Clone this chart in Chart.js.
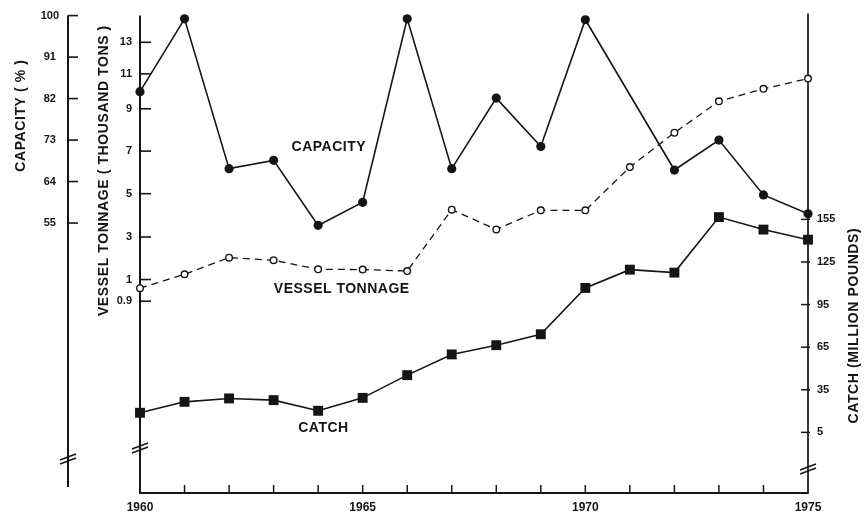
<!DOCTYPE html>
<html>
<head>
<meta charset="utf-8">
<title>Capacity, vessel tonnage and catch, 1960–1975</title>
<script src="https://cdn.jsdelivr.net/npm/chart.js@4.4.1/dist/chart.umd.min.js"></script>
<style>
  html, body { margin: 0; padding: 0; background: #fff; }
  #wrap { width: 868px; height: 514px; }
</style>
</head>
<body>
<div id="wrap"><canvas id="chart" width="868" height="514"></canvas></div>
<script>
// ---- data -------------------------------------------------------------
const years = [1960, 1961, 1962, 1963, 1964, 1965, 1966, 1967,
               1968, 1969, 1970, 1971, 1972, 1973, 1974, 1975];

// capacity utilisation, percent (no observation for 1971)
const capacityPct = [83.5, 99.3, 66.8, 68.6, 54.5, 59.5, 99.3, 66.8,
                     82.1, 71.6, 99.1, null, 66.5, 73.0, 61.1, 57.0];

// vessel tonnage, thousand tons
const tonnageKt = [0.96, 1.25, 2.03, 1.91, 1.48, 1.47, 1.40, 4.26,
                   3.35, 4.23, 4.23, 6.25, 7.87, 9.43, 10.14, 10.73];

// catch, million pounds
const catchMlb = [18.8, 26.5, 28.9, 27.7, 20.2, 29.3, 45.3, 59.9,
                  66.4, 74.1, 106.7, 119.6, 117.5, 156.6, 147.8, 140.7];

const capacityTicks = [55, 64, 73, 82, 91, 100];
const tonnageTicks = [0.9, 1, 3, 5, 7, 9, 11, 13];
const catchTicks = [5, 35, 65, 95, 125, 155];
const yearLabels = [1960, 1965, 1970, 1975];

// ---- irregular tonnage axis -----------------------------------------------
// The tonnage axis is not evenly divided: each tick value sits at its own
// fraction of the axis height (0 = bottom, 1 = top); values in between are
// interpolated linearly, values beyond the ends extrapolate the end segment.
const calibrations = {
  ton: [[0.9, 0.4017], [1, 0.4471], [3, 0.5362], [5, 0.6270],
        [7, 0.7161], [9, 0.8048], [11, 0.8780], [13, 0.9441]]
};

function toFraction(knots, v) {
  let i = 1;
  while (i < knots.length - 1 && v > knots[i][0]) i++;
  const [v0, f0] = knots[i - 1], [v1, f1] = knots[i];
  return f0 + (v - v0) / (v1 - v0) * (f1 - f0);
}
function fromFraction(knots, f) {
  let i = 1;
  while (i < knots.length - 1 && f > knots[i][1]) i++;
  const [v0, f0] = knots[i - 1], [v1, f1] = knots[i];
  return v0 + (f - f0) / (f1 - f0) * (v1 - v0);
}

class CalibratedScale extends Chart.LinearScale {
  static id = 'calibrated';
  buildTicks() {
    return calibrations[this.id].map(k => ({ value: k[0] }));
  }
  getPixelForValue(value) {
    if (value === null || value === undefined) return NaN;
    const f = toFraction(calibrations[this.id], value);
    return this.bottom - f * (this.bottom - this.top);
  }
  getValueForPixel(pixel) {
    const f = (this.bottom - pixel) / (this.bottom - this.top);
    return fromFraction(calibrations[this.id], f);
  }
}
Chart.register(CalibratedScale);

// ---- styling ----------------------------------------------------------------
const INK = '#151515';
const FONT = '"Liberation Sans", Arial, sans-serif';
Chart.defaults.font.family = FONT;
Chart.defaults.color = INK;

const points = values => years.map((yr, i) => ({ x: yr, y: values[i] }));
const fixedTicks = list => scale => { scale.ticks = list.map(v => ({ value: v })); };
const noGrid = { display: false, drawTicks: false };
const noBorder = { display: false };

function stroke(ctx, x1, y1, x2, y2, w) {
  ctx.lineWidth = w;
  ctx.beginPath();
  ctx.moveTo(x1, y1);
  ctx.lineTo(x2, y2);
  ctx.stroke();
}
// "//" break mark across a vertical axis
function breakMark(ctx, x, y) {
  stroke(ctx, x - 8, y + 2, x + 8, y - 4, 1.5);
  stroke(ctx, x - 8, y + 6, x + 8, y, 1.5);
}
function setText(ctx, size, spacing) {
  ctx.font = `bold ${size}px ${FONT}`;
  ctx.fillStyle = INK;
  if ('letterSpacing' in ctx) ctx.letterSpacing = spacing + 'px';
}
function verticalText(ctx, str, x, y) {
  ctx.save();
  ctx.translate(x, y);
  ctx.rotate(-Math.PI / 2);
  ctx.textAlign = 'center';
  ctx.textBaseline = 'middle';
  ctx.fillText(str, 0, 0);
  ctx.restore();
}

// axis lines, inward tick marks, break marks, axis titles and series names
const framePlugin = {
  id: 'frame',
  beforeDatasetsDraw(chart) {
    const { ctx, chartArea: a, scales } = chart;
    const cap = scales.cap, ton = scales.ton, cat = scales.cat, x = scales.x;
    ctx.save();
    ctx.strokeStyle = INK;
    ctx.lineCap = 'butt';

    // capacity axis, standing apart on the far left
    const cx = cap.right;
    stroke(ctx, cx, a.top, cx, a.bottom - 6, 2);
    capacityTicks.forEach(v => {
      const y = cap.getPixelForValue(v);
      stroke(ctx, cx, y, cx + 10, y, 1.6);
    });
    breakMark(ctx, cx, a.bottom - 35);

    // tonnage axis
    stroke(ctx, a.left, a.top, a.left, a.bottom + 1, 2);
    tonnageTicks.forEach(v => {
      const y = ton.getPixelForValue(v);
      stroke(ctx, a.left, y, a.left + 11, y, 1.6);
    });
    breakMark(ctx, a.left, a.bottom - 46);

    // catch axis on the right
    stroke(ctx, a.right, a.top - 2, a.right, a.bottom + 1, 1.7);
    catchTicks.forEach(v => {
      const y = cat.getPixelForValue(v);
      stroke(ctx, a.right - 7, y, a.right + 2, y, 1.5);
    });
    breakMark(ctx, a.right, a.bottom - 25);

    // year axis with upward ticks
    stroke(ctx, a.left, a.bottom, a.right, a.bottom, 1.8);
    years.slice(1, -1).forEach(yr => {
      const px = x.getPixelForValue(yr);
      stroke(ctx, px, a.bottom, px, a.bottom - 8, 1.5);
    });

    // axis titles
    setText(ctx, 14, 0.6);
    verticalText(ctx, 'CAPACITY ( % )', cap.left + 21, a.top + 100);
    verticalText(ctx, 'VESSEL TONNAGE ( THOUSAND TONS )', ton.left + 36, a.top + 155);
    verticalText(ctx, 'CATCH (MILLION POUNDS)', cat.left + 46, a.top + 310);
    ctx.restore();
  },
  afterDatasetsDraw(chart) {
    const { ctx, scales } = chart;
    const x = scales.x;
    ctx.save();
    setText(ctx, 14, 0.5);
    ctx.textAlign = 'center';
    ctx.textBaseline = 'middle';
    ctx.fillText('CAPACITY', x.getPixelForValue(1964.24), scales.cap.getPixelForValue(71.4));
    ctx.fillText('VESSEL TONNAGE', x.getPixelForValue(1964.53), scales.ton.getPixelForValue(0.954));
    ctx.fillText('CATCH', x.getPixelForValue(1964.12), scales.cat.getPixelForValue(8.2));
    ctx.restore();
  }
};

new Chart(document.getElementById('chart'), {
  type: 'line',
  data: {
    datasets: [
      {
        label: 'Capacity (%)',
        data: points(capacityPct),
        yAxisID: 'cap',
        spanGaps: true,
        borderColor: INK,
        borderWidth: 1.6,
        pointStyle: 'circle',
        pointRadius: 4.6,
        pointBackgroundColor: INK,
        pointBorderWidth: 0,
        clip: false
      },
      {
        label: 'Vessel tonnage (thousand tons)',
        data: points(tonnageKt),
        yAxisID: 'ton',
        borderColor: INK,
        borderWidth: 1.3,
        borderDash: [7, 5],
        pointStyle: 'circle',
        pointRadius: 3.3,
        pointBackgroundColor: '#fff',
        pointBorderColor: INK,
        pointBorderWidth: 1.4,
        clip: false
      },
      {
        label: 'Catch (million pounds)',
        data: points(catchMlb),
        yAxisID: 'cat',
        borderColor: INK,
        borderWidth: 1.6,
        pointStyle: 'rect',
        pointRadius: 7,
        pointBackgroundColor: INK,
        pointBorderWidth: 0,
        clip: false
      }
    ]
  },
  options: {
    responsive: false,
    animation: false,
    devicePixelRatio: 1,
    layout: { padding: { top: 15, left: 0, right: 0, bottom: 0 } },
    plugins: { legend: { display: false }, tooltip: { enabled: false } },
    scales: {
      x: {
        type: 'linear',
        position: 'bottom',
        min: 1960,
        max: 1975,
        afterFit: s => { s.height = 21; },
        afterBuildTicks: fixedTicks(years),
        grid: noGrid,
        border: noBorder,
        ticks: {
          autoSkip: false,
          maxRotation: 0,
          padding: 7,
          color: INK,
          font: { size: 12, weight: 'bold' },
          callback: v => (yearLabels.includes(v) ? String(v) : '')
        }
      },
      cap: {
        type: 'linear',
        axis: 'y',
        position: 'left',
        weight: 2,
        min: -3.56,
        max: 100,
        afterFit: s => { s.width = 68; },
        afterBuildTicks: fixedTicks(capacityTicks),
        grid: noGrid,
        border: noBorder,
        ticks: {
          autoSkip: false,
          crossAlign: 'center',
          padding: 9,
          color: INK,
          font: { size: 11, weight: 'bold' },
          callback: v => String(v)
        }
      },
      ton: {
        type: 'calibrated',
        axis: 'y',
        position: 'left',
        weight: 1,
        afterFit: s => { s.width = 72; },
        grid: noGrid,
        border: noBorder,
        ticks: {
          autoSkip: false,
          padding: 8,
          color: INK,
          font: { size: 11, weight: 'bold' },
          callback: v => String(v)
        }
      },
      cat: {
        type: 'linear',
        axis: 'y',
        position: 'right',
        min: -37.7,
        max: 298.5,
        afterFit: s => { s.width = 60; },
        afterBuildTicks: fixedTicks(catchTicks),
        grid: noGrid,
        border: noBorder,
        ticks: {
          autoSkip: false,
          padding: 9,
          color: INK,
          font: { size: 11, weight: 'bold' },
          callback: v => String(v)
        }
      }
    }
  },
  plugins: [framePlugin]
});
</script>
</body>
</html>
